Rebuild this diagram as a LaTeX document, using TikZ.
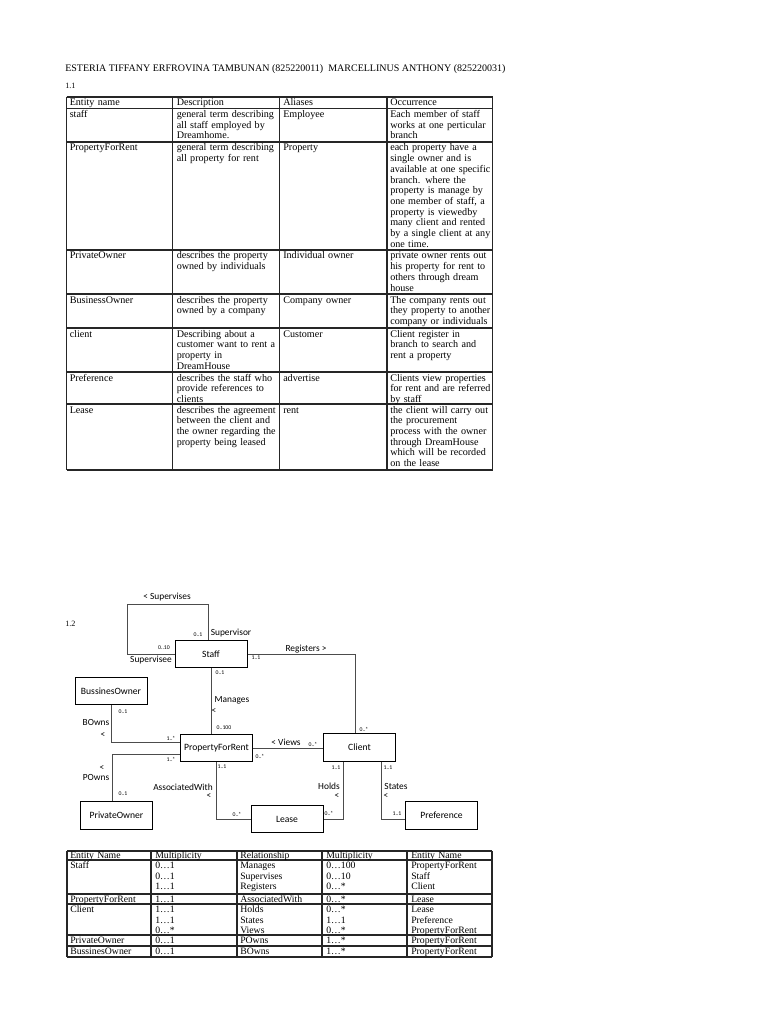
\documentclass[tikz,border=0pt]{standalone}
\usepackage{fontspec}
\setmainfont{Liberation Serif}
\newfontfamily\erfont{Carlito}
\usetikzlibrary{positioning,calc}
\newcommand{\tabfont}{\fontsize{8.1}{8.56}\selectfont}
\newcommand{\multfont}{\fontsize{7.8}{8.4}\selectfont}
\tikzset{
  cell/.style={anchor=base west,inner sep=0pt,text width=105pt,align=left,font=\tabfont},
  mcell/.style={cell,font=\multfont},
  gridline/.style={line width=0.9pt,draw=black!85},
  entity/.style={rectangle,draw=black,line width=0.8pt,minimum width=57.6pt,
    minimum height=22pt,inner sep=1pt,font=\erfont\fontsize{7.7}{8}\selectfont},
  erline/.style={draw=black!70,line width=0.7pt},
  erlabel/.style={inner sep=0pt,font=\erfont\fontsize{7.5}{8}\selectfont},
  mult/.style={inner sep=0pt,font=\erfont\fontsize{4.6}{5}\selectfont},
}
\begin{document}
\begin{tikzpicture}[x=0.8pt,y=-0.8pt]
\fill[white] (0,0) rectangle (768,1024);
\useasboundingbox (0,0) rectangle (768,1024);

%% -- heading -----------------------------------------------------------
\node[anchor=base west,inner sep=0pt,font=\fontsize{8}{9}\selectfont] (names) at (65,72)
  {ESTERIA TIFFANY ERFROVINA TAMBUNAN (825220011)\ \ MARCELLINUS ANTHONY (825220031)};
\node[anchor=base west,inner sep=0pt,font=\fontsize{6.5}{8}\selectfont] (sec1) at (65,89) {1.1};

%% -- entity table ------------------------------------------------------
\foreach \y in {97,108.5,142,250,294,328,372,404,470}
  \draw[gridline] (66.5,\y) -- (492.5,\y);
\foreach \x in {66.5,172.5,279.5,387,492.5}
  \draw[gridline] (\x,97) -- (\x,470);

\node[cell] (hName) at (69.5,106) {Entity name};
\node[cell] (hDesc) at (176.5,106) {Description};
\node[cell] (hAlias) at (283,106) {Aliases};
\node[cell] (hOcc) at (390,106) {Occurrence};

\node[cell] (staffN) at (69.5,117.5) {staff};
\node[cell] (staffD) at (176.5,117.5) {general term describing\\all staff employed by\\Dreamhome.};
\node[cell] (staffA) at (283,117.5) {Employee};
\node[cell] (staffO) at (390,117.5) {Each member of staff\\works at one perticular\\branch};

\node[cell] (pfrN) at (69.5,151) {PropertyForRent};
\node[cell] (pfrD) at (176.5,151) {general term describing\\all property for rent};
\node[cell] (pfrA) at (283,151) {Property};
\node[cell] (pfrO) at (390,151) {each property have a\\single owner and is\\available at one specific\\branch. where the\\property is manage by\\one member of staff, a\\property is viewedby\\many client and rented\\by a single client at any\\one time.};

\node[cell] (poN) at (69.5,259) {PrivateOwner};
\node[cell] (poD) at (176.5,259) {describes the property\\owned by individuals};
\node[cell] (poA) at (283,259) {Individual owner};
\node[cell] (poO) at (390,259) {private owner rents out\\his property for rent to\\others through dream\\house};

\node[cell] (boN) at (69.5,303) {BusinessOwner};
\node[cell] (boD) at (176.5,303) {describes the property\\owned by a company};
\node[cell] (boA) at (283,303) {Company owner};
\node[cell] (boO) at (390,303) {The company rents out\\they property to another\\company or individuals};

\node[cell] (clN) at (69.5,337) {client};
\node[cell] (clD) at (176.5,337) {Describing about a\\customer want to rent a\\property in\\DreamHouse};
\node[cell] (clA) at (283,337) {Customer};
\node[cell] (clO) at (390,337) {Client register in\\branch to search and\\rent a property};

\node[cell] (prN) at (69.5,381) {Preference};
\node[cell] (prD) at (176.5,381) {describes the staff who\\provide references to\\clients};
\node[cell] (prA) at (283,381) {advertise};
\node[cell] (prO) at (390,381) {Clients view properties\\for rent and are referred\\by staff};

\node[cell] (leN) at (69.5,413) {Lease};
\node[cell] (leD) at (176.5,413) {describes the agreement\\between the client and\\the owner regarding the\\property being leased};
\node[cell] (leA) at (283,413) {rent};
\node[cell] (leO) at (390,413) {the client will carry out\\the procurement\\process with the owner\\through DreamHouse\\which will be recorded\\on the lease};

%% -- ER diagram --------------------------------------------------------
\node[anchor=base west,inner sep=0pt,font=\fontsize{6.5}{8}\selectfont] (sec2) at (65,626) {1.2};

\node[entity] (staff) at (211,654) {Staff};
\node[entity] (bowner) at (111,691) {BussinesOwner};
\node[entity] (pfr) at (216.5,748) {PropertyForRent};
\node[entity] (client) at (359.5,747.5) {Client};
\node[entity] (powner) at (116.5,815.5) {PrivateOwner};
\node[entity] (lease) at (287,819) {Lease};
\node[entity] (pref) at (441.5,815.5) {Preference};

\coordinate (supA) at (127,604);

% Staff supervises Staff
\draw[erline] ([xshift=-2.4pt]staff.north) |- (supA) |- (staff.west);
% Staff registers Client
\draw[erline] (staff.east) -| ([xshift=-3.6pt]client.north);
% Staff manages PropertyForRent
\draw[erline] (staff.south) -- (staff.south |- pfr.north);
% BussinesOwner owns PropertyForRent
\draw[erline] (bowner.south) |- ([yshift=4.8pt]pfr.west);
% PrivateOwner owns PropertyForRent
\draw[erline] ([yshift=-4.8pt]pfr.west) -| ([xshift=-3.6pt]powner.north);
% PropertyForRent associated with Lease
\draw[erline] (pfr.south) |- (lease.west);
% Client views PropertyForRent
\draw[erline] (pfr.east) -- (pfr.east -| client.west);
% Client holds Lease
\draw[erline] ([xshift=-13.2pt]client.south) |- (lease.east);
% Client states Preference
\draw[erline] ([xshift=17.2pt]client.south) |- ([yshift=-2.8pt]pref.west);

% labels
\node[erlabel] (lSup) at (167,597) {< Supervises};
\node[mult] (mSup1) at (198,635) {0..1};
\node[erlabel] (lSupr) at (231,633) {Supervisor};
\node[mult] (mSup2) at (164,648) {0..10};
\node[erlabel] (lSupe) at (151,660) {Supervisee};

\node[erlabel] (lReg) at (306,649) {Registers >};
\node[mult] (mReg1) at (256,658) {1..1};
\node[mult] (mReg2) at (364,729) {0..*};

\node[mult] (mMan1) at (220,673) {0..1};
\node[erlabel] (lMan) at (232,700) {Manages};
\node[erlabel] (aMan) at (214,711) {<};
\node[mult] (mMan2) at (224,728) {0..100};

\node[mult] (mBo1) at (123,712) {0..1};
\node[erlabel] (lBo) at (96,722) {BOwns};
\node[erlabel] (aBo) at (103,735) {<};
\node[mult] (mBo2) at (171,738) {1..*};

\node[mult] (mPo2) at (171,759) {1..*};
\node[erlabel] (aPo) at (102,768) {<};
\node[erlabel] (lPo) at (96,777) {POwns};
\node[mult] (mPo1) at (123,794) {0..1};

\node[mult] (mAs1) at (222,767) {1..1};
\node[erlabel] (lAs) at (183,787) {AssociatedWith};
\node[erlabel] (aAs) at (209,796) {<};
\node[mult] (mAs2) at (237,814) {0..*};

\node[erlabel] (lView) at (286,742) {< Views};
\node[mult] (mView1) at (313,744) {0..*};
\node[mult] (mView2) at (260,756) {0..*};

\node[mult] (mHo1) at (336,768) {1..1};
\node[erlabel] (lHo) at (329,786) {Holds};
\node[erlabel] (aHo) at (337,796) {<};
\node[mult] (mHo2) at (329,813) {0..*};

\node[mult] (mSt1) at (388,768) {1..1};
\node[erlabel] (lSt) at (396,786) {States};
\node[erlabel] (aSt) at (386,796) {<};
\node[mult] (mSt2) at (397,814) {1..1};

%% -- multiplicity table ------------------------------------------------
\foreach \y in {851,860,894,904,935,946,957}
  \draw[gridline] (67,\y) -- (492,\y);
\foreach \x in {67,151,237,322,407,492}
  \draw[gridline] (\x,851) -- (\x,957);

\node[mcell] (mhE1) at (70,858) {Entity Name};
\node[mcell] (mhM1) at (155,858) {Multiplicity};
\node[mcell] (mhR) at (240,858) {Relationship};
\node[mcell] (mhM2) at (326,858) {Multiplicity};
\node[mcell] (mhE2) at (411,858) {Entity Name};

\node[mcell] (msE1) at (70,868.5) {Staff};
\node[mcell] (msM1) at (155,868.5) {0…1\\0…1\\1…1};
\node[mcell] (msR) at (240,868.5) {Manages\\Supervises\\Registers};
\node[mcell] (msM2) at (326,868.5) {0…100\\0…10\\0…*};
\node[mcell] (msE2) at (411,868.5) {PropertyForRent\\Staff\\Client};

\node[mcell] (mpE1) at (70,902) {PropertyForRent};
\node[mcell] (mpM1) at (155,902) {1…1};
\node[mcell] (mpR) at (240,902) {AssociatedWith};
\node[mcell] (mpM2) at (326,902) {0…*};
\node[mcell] (mpE2) at (411,902) {Lease};

\node[mcell] (mcE1) at (70,912.5) {Client};
\node[mcell] (mcM1) at (155,912.5) {1…1\\1…1\\0…*};
\node[mcell] (mcR) at (240,912.5) {Holds\\States\\Views};
\node[mcell] (mcM2) at (326,912.5) {0…*\\1…1\\0…*};
\node[mcell] (mcE2) at (411,912.5) {Lease\\Preference\\PropertyForRent};

\node[mcell] (moE1) at (70,943.5) {PrivateOwner};
\node[mcell] (moM1) at (155,943.5) {0…1};
\node[mcell] (moR) at (240,943.5) {POwns};
\node[mcell] (moM2) at (326,943.5) {1…*};
\node[mcell] (moE2) at (411,943.5) {PropertyForRent};

\node[mcell] (mbE1) at (70,954.5) {BussinesOwner};
\node[mcell] (mbM1) at (155,954.5) {0…1};
\node[mcell] (mbR) at (240,954.5) {BOwns};
\node[mcell] (mbM2) at (326,954.5) {1…*};
\node[mcell] (mbE2) at (411,954.5) {PropertyForRent};

\end{tikzpicture}
\end{document}
